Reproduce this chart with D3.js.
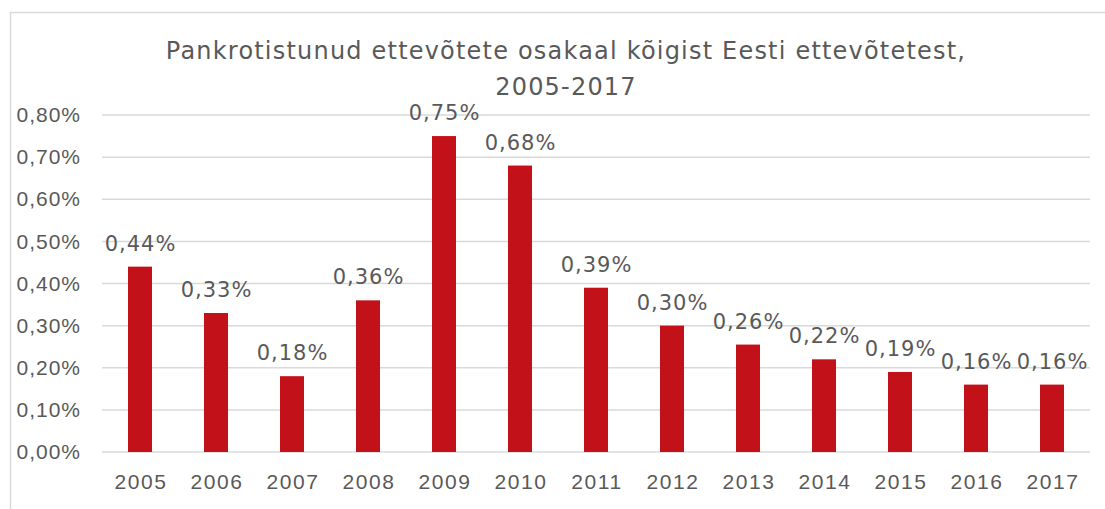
<!DOCTYPE html>
<html>
<head>
<meta charset="utf-8">
<script src="https://cdn.jsdelivr.net/npm/d3@7"></script>
<style>
  html, body { margin: 0; padding: 0; background: #fff; overflow: hidden; }
  svg { display: block; font-family: "DejaVu Sans", sans-serif; }
</style>
</head>
<body>
<div id="chart"></div>
<script>
// andmed
const years = ["2005", "2006", "2007", "2008", "2009", "2010", "2011", "2012", "2013", "2014", "2015", "2016", "2017"];
const shares = [0.44, 0.33, 0.18, 0.36, 0.75, 0.68, 0.39, 0.30, 0.255, 0.22, 0.19, 0.16, 0.16];
const yTicks = [0, 0.1, 0.2, 0.3, 0.4, 0.5, 0.6, 0.7, 0.8];
const titleLines = ["Pankrotistunud ettevõtete osakaal kõigist Eesti ettevõtetest,", "2005-2017"];

const W = 1105, H = 509;
const margin = { top: 115, right: 15, bottom: 57, left: 102 };
const textColor = "#595959";
const barColor = "#c3111a";

const fmt = v => v.toFixed(2).replace(".", ",") + "%";

const svg = d3.select("#chart").append("svg")
    .attr("width", W)
    .attr("height", H);

// raam (läheb üle pildi serva)
svg.append("rect")
    .attr("x", 10.5).attr("y", 12.5)
    .attr("width", W + 20).attr("height", H + 20)
    .attr("fill", "none")
    .attr("stroke", "#d9d9d9")
    .attr("stroke-width", 1.5);

const x = d3.scaleBand()
    .domain(years)
    .range([margin.left, W - margin.right])
    .paddingInner(0.684)
    .paddingOuter(0.342);

const y = d3.scaleLinear()
    .domain([0, 0.8])
    .range([H - margin.bottom, margin.top]);

// ruudustik
svg.append("g")
    .selectAll("line")
    .data(yTicks)
    .enter().append("line")
    .attr("x1", margin.left)
    .attr("x2", W - margin.right)
    .attr("y1", d => y(d))
    .attr("y2", d => y(d))
    .attr("stroke", "#d9d9d9")
    .attr("stroke-width", 1.5);

// y-telg
const yAxis = svg.append("g")
    .attr("transform", "translate(81,0)")
    .call(d3.axisLeft(y).tickValues(yTicks).tickFormat(fmt).tickSize(0).tickPadding(0));
yAxis.select(".domain").remove();
yAxis.selectAll("text")
    .attr("fill", textColor)
    .style("font-size", "21px")
    .style("letter-spacing", "1px")
    .style("font-family", "inherit");

// x-telg
const xAxis = svg.append("g")
    .attr("transform", `translate(1,${H - margin.bottom})`)
    .call(d3.axisBottom(x).tickSize(0).tickPadding(22));
xAxis.select(".domain").remove();
xAxis.selectAll("text")
    .attr("fill", textColor)
    .style("font-size", "21px")
    .style("letter-spacing", "1.6px")
    .style("font-family", "inherit");

// väärtused tulpade kohal
svg.append("g")
    .selectAll("text")
    .data(years)
    .enter().append("text")
    .attr("x", d => x(d) + x.bandwidth() / 2 + 0.5)
    .attr("y", (d, i) => y(shares[i]) - 16)
    .attr("text-anchor", "middle")
    .attr("fill", textColor)
    .style("font-size", "21px")
    .style("letter-spacing", "1px")
    .text((d, i) => fmt(shares[i]));

// tulbad
svg.append("g")
    .selectAll("rect")
    .data(years)
    .enter().append("rect")
    .attr("x", d => x(d))
    .attr("width", x.bandwidth())
    .attr("y", (d, i) => y(shares[i]))
    .attr("height", (d, i) => y(0) - y(shares[i]))
    .attr("fill", barColor);

// pealkiri
svg.append("g")
    .selectAll("text")
    .data(titleLines)
    .enter().append("text")
    .attr("x", 566)
    .attr("y", (d, i) => 59 + i * 36)
    .attr("text-anchor", "middle")
    .attr("fill", textColor)
    .style("font-size", "24px")
    .style("letter-spacing", "1.2px")
    .text(d => d);
</script>
</body>
</html>
